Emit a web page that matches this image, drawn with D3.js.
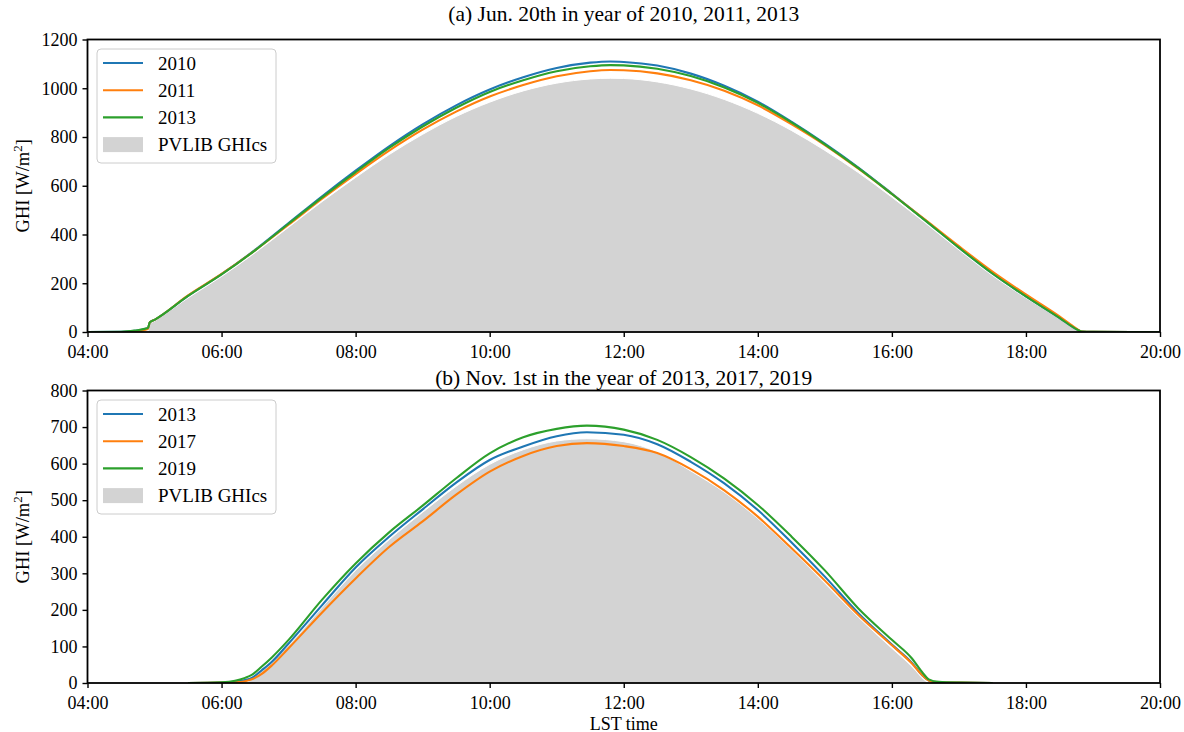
<!DOCTYPE html>
<html>
<head>
<meta charset="utf-8">
<script src="https://cdn.jsdelivr.net/npm/d3@7"></script>
<style>
  html, body { margin: 0; padding: 0; background: #fff; }
  svg text { font-family: "Liberation Serif", "Times New Roman", serif; fill: #000; }
</style>
</head>
<body>
<svg id="chart" width="1184" height="732"></svg>
<script>
// ---------- Panel (a): June 20th ----------
const junTitle = "(a) Jun. 20th in year of 2010, 2011, 2013";
const junSeriesNames = ["2010", "2011", "2013"];
// local solar time, hours
const junTimes = [4.0, 4.5, 4.7, 4.9, 4.93, 5.0, 5.5, 6.0, 6.5, 7.0, 7.5, 8.0, 8.5, 9.0, 9.5, 10.0,
  10.5, 11.0, 11.5, 11.8, 12.0, 12.5, 13.0, 13.5, 14.0, 14.5, 15.0, 15.5, 16.0, 16.5, 17.0, 17.5,
  18.0, 18.5, 18.75, 18.83, 19.0, 20.0];
const jun2010 = [0, 1, 5, 15, 40, 50, 148, 237, 337, 447, 557, 662, 762, 852, 930, 995,
  1045, 1083, 1105, 1110, 1108, 1093, 1060, 1010, 945, 863, 773, 675, 568, 458, 346, 240,
  146, 58, 12, 2, 1, 0];
const jun2011 = [0, 0, 1, 12, 40, 50, 150, 238, 335, 440, 547, 648, 744, 830, 904, 966,
  1013, 1049, 1070, 1075, 1074, 1061, 1033, 990, 930, 853, 767, 670, 566, 460, 352, 248,
  154, 64, 15, 2, 1, 0];
const jun2013 = [0, 1, 6, 16, 40, 50, 148, 236, 335, 444, 552, 656, 755, 843, 920, 985,
  1033, 1070, 1090, 1095, 1094, 1080, 1050, 1003, 940, 860, 770, 672, 566, 457, 346, 240,
  146, 58, 12, 2, 1, 0];
const junClearTimes = [4.9, 4.93, 5.0, 5.5, 6.0, 6.5, 7.0, 7.5, 8.0, 8.5, 9.0, 9.5, 10.0, 10.5,
  11.0, 11.5, 11.8, 12.0, 12.5, 13.0, 13.5, 14.0, 14.5, 15.0, 15.5, 16.0, 16.5, 17.0, 17.5,
  18.0, 18.5, 18.75, 18.83];
const junClear = [0, 33, 45, 140, 228, 325, 430, 535, 634, 728, 811, 884, 943, 989,
  1021, 1038, 1041, 1040, 1026, 997, 954, 897, 827, 745, 654, 553, 447, 337, 232,
  140, 55, 10, 0];
const junYTicks = [0, 200, 400, 600, 800, 1000, 1200];

// ---------- Panel (b): November 1st ----------
const novTitle = "(b) Nov. 1st in the year of 2013, 2017, 2019";
const novSeriesNames = ["2013", "2017", "2019"];
const novTimes = [5.5, 6.0, 6.2, 6.35, 6.45, 6.6, 6.75, 7.0, 7.5, 8.0, 8.5, 9.0, 9.5, 10.0,
  10.5, 11.0, 11.45, 12.0, 12.5, 13.0, 13.5, 14.0, 14.5, 15.0, 15.5, 16.0, 16.3, 16.45,
  16.55, 16.7, 17.0, 17.5];
const nov2013 = [0, 1, 3, 8, 14, 35, 58, 108, 213, 316, 400, 475, 548, 610,
  647, 675, 686, 679, 653, 605, 546, 473, 385, 291, 191, 105, 55, 22,
  7, 2, 1, 0];
const nov2017 = [0, 1, 2, 5, 10, 25, 48, 95, 193, 286, 372, 442, 515, 578,
  621, 648, 656, 648, 629, 585, 527, 455, 369, 280, 186, 103, 53, 22,
  7, 2, 1, 0];
const nov2019 = [0, 2, 6, 14, 22, 45, 70, 118, 228, 327, 412, 485, 560, 628,
  672, 695, 704, 693, 665, 618, 559, 487, 401, 308, 204, 118, 67, 30,
  10, 3, 1, 0];
const novClearTimes = [6.38, 6.45, 6.75, 7.0, 7.5, 8.0, 8.5, 9.0, 9.5, 10.0, 10.5, 11.0, 11.45,
  12.0, 12.5, 13.0, 13.5, 14.0, 14.5, 15.0, 15.5, 16.0, 16.3, 16.5, 16.55];
const novClear = [0, 12, 58, 103, 207, 308, 392, 467, 538, 598, 638, 662, 668,
  660, 632, 580, 522, 450, 365, 273, 180, 95, 45, 6, 0];
const novYTicks = [0, 100, 200, 300, 400, 500, 600, 700, 800];

// shared
const xTicks = [4, 6, 8, 10, 12, 14, 16, 18, 20];
const clearLabel = "PVLIB GHIcs";
const seriesColors = ["#1f77b4", "#ff7f0e", "#2ca02c"];
const fillColor = "#d3d3d3";
const SERIF = "'Liberation Serif', 'Times New Roman', serif";

const svg = d3.select("#chart");
const TICK_FS = 18, LEG_FS = 19, TITLE_FS = 21.5, LABEL_FS = 18.5;
const left = 87.5, right = 1160;

const fmtTime = h => String(Math.floor(h)).padStart(2, "0") + ":00";

function drawPanel(opt) {
  const { top, bottom, yMax, yTicks, times, series, clearTimes, clear, names, title, titleY, legendTop } = opt;
  const x = d3.scaleLinear().domain([4, 20]).range([left, right]);
  const y = d3.scaleLinear().domain([0, yMax]).range([bottom, top]);
  const g = svg.append("g");

  const clip = "clip" + Math.round(top);
  svg.append("defs").append("clipPath").attr("id", clip)
    .append("rect").attr("x", left).attr("y", top).attr("width", right - left).attr("height", bottom - top);

  const plot = g.append("g").attr("clip-path", `url(#${clip})`);

  // clear-sky envelope
  const clearData = clearTimes.map((t, i) => [t, clear[i]]);
  plot.append("path")
    .datum(clearData)
    .attr("d", d3.area().x(d => x(d[0])).y0(y(0)).y1(d => y(d[1])).curve(d3.curveMonotoneX))
    .attr("fill", fillColor)
    .attr("stroke", "#ffffff")
    .attr("stroke-width", 1);

  // measured series
  series.forEach((vals, k) => {
    const data = times.map((t, i) => [t, vals[i]]);
    plot.append("path")
      .datum(data)
      .attr("d", d3.line().x(d => x(d[0])).y(d => y(d[1])).curve(d3.curveMonotoneX))
      .attr("fill", "none")
      .attr("stroke", seriesColors[k])
      .attr("stroke-width", 2.1)
      .attr("stroke-linejoin", "round");
  });

  // axes
  const xAxis = d3.axisBottom(x).tickValues(xTicks).tickFormat(fmtTime).tickSize(5).tickPadding(8);
  const gx = g.append("g").attr("transform", `translate(0,${bottom})`).call(xAxis);
  const yAxis = d3.axisLeft(y).tickValues(yTicks).tickFormat(d3.format("d")).tickSize(5).tickPadding(5);
  const gy = g.append("g").attr("transform", `translate(${left},0)`).call(yAxis);
  [gx, gy].forEach(a => {
    a.attr("font-family", SERIF).attr("font-size", TICK_FS);
    a.select(".domain").remove();
    a.selectAll(".tick line").attr("stroke", "#000").attr("stroke-width", 1.4);
    a.selectAll(".tick text").attr("font-size", TICK_FS).style("font-family", SERIF);
  });

  // frame
  g.append("rect").attr("x", left).attr("y", top).attr("width", right - left).attr("height", bottom - top)
    .attr("fill", "none").attr("stroke", "#000").attr("stroke-width", 1.8);

  // title
  g.append("text").attr("x", (left + right) / 2).attr("y", titleY)
    .attr("text-anchor", "middle").attr("font-size", TITLE_FS).text(title);

  // y label
  const yl = g.append("text")
    .attr("transform", `translate(29,${(top + bottom) / 2}) rotate(-90)`)
    .attr("text-anchor", "middle").attr("font-size", LABEL_FS);
  yl.append("tspan").text("GHI [W/m");
  yl.append("tspan").attr("font-size", LABEL_FS * 0.7).attr("dy", -7).text("2");
  yl.append("tspan").attr("dy", 7).text("]");

  // legend
  const lg = g.append("g").attr("transform", `translate(97,${legendTop})`);
  lg.append("rect").attr("x", 0).attr("y", 0).attr("width", 179).attr("height", 114)
    .attr("rx", 4).attr("fill", "#fff").attr("fill-opacity", 0.8)
    .attr("stroke", "#cccccc").attr("stroke-width", 1);
  names.forEach((n, k) => {
    const cy = 14 + k * 27.2;
    lg.append("line").attr("x1", 6).attr("x2", 46).attr("y1", cy).attr("y2", cy)
      .attr("stroke", seriesColors[k]).attr("stroke-width", 2.1);
    lg.append("text").attr("x", 61).attr("y", cy).attr("dy", "0.35em").attr("font-size", LEG_FS).text(n);
  });
  const py = 14 + 3 * 27.2;
  lg.append("rect").attr("x", 6).attr("y", py - 7.5).attr("width", 40).attr("height", 15).attr("fill", fillColor);
  lg.append("text").attr("x", 61).attr("y", py).attr("dy", "0.35em").attr("font-size", LEG_FS).text(clearLabel);
}

drawPanel({
  top: 39.5, bottom: 332, yMax: 1200, yTicks: junYTicks,
  times: junTimes, series: [jun2010, jun2011, jun2013],
  clearTimes: junClearTimes, clear: junClear,
  names: junSeriesNames, title: junTitle, titleY: 21, legendTop: 49
});

drawPanel({
  top: 390.5, bottom: 683, yMax: 800, yTicks: novYTicks,
  times: novTimes, series: [nov2013, nov2017, nov2019],
  clearTimes: novClearTimes, clear: novClear,
  names: novSeriesNames, title: novTitle, titleY: 385, legendTop: 400
});

// shared x label
svg.append("text").attr("x", (left + right) / 2).attr("y", 729.5)
  .attr("text-anchor", "middle").attr("font-size", 18).text("LST time");
</script>
</body>
</html>
